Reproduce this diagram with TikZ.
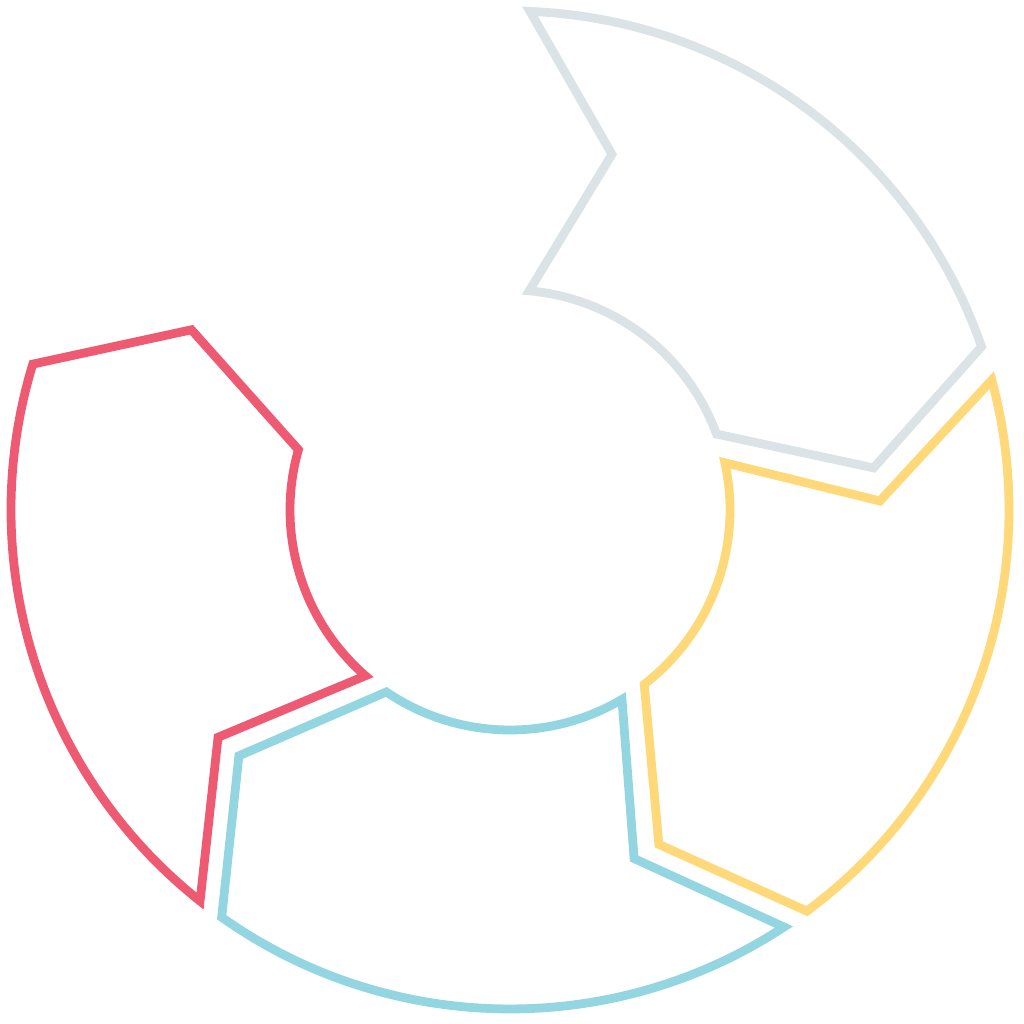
\documentclass[tikz,border=0pt]{standalone}
\usepackage{tikz}

\definecolor{cyclegrey}{HTML}{DCE3E6}
\definecolor{cycleyellow}{HTML}{FFD87A}
\definecolor{cycleblue}{HTML}{93D6E1}
\definecolor{cyclered}{HTML}{EF5A73}

\begin{document}
\begin{tikzpicture}[segment/.style={line width=2.5pt,line join=miter}]
  \useasboundingbox (0,0) rectangle (10.24,10.24);
  \begin{scope}[shift={(5.10,5.14)}]
    \foreach \s/\col in {87.7/cyclegrey,15.1/cycleyellow,-56.7/cycleblue,-128.4/cyclered}{
      \draw[segment,\col] (\s:4.99) arc[start angle=\s,end angle=\s-68.6,radius=4.99]
        -- (\s-81.1:3.66) -- (\s-67.5:2.20)
        arc[start angle=\s-67.5,end angle=\s-2.7,radius=2.20]
        -- (\s-13.7:3.70) -- cycle;
    }
  \end{scope}
\end{tikzpicture}
\end{document}
